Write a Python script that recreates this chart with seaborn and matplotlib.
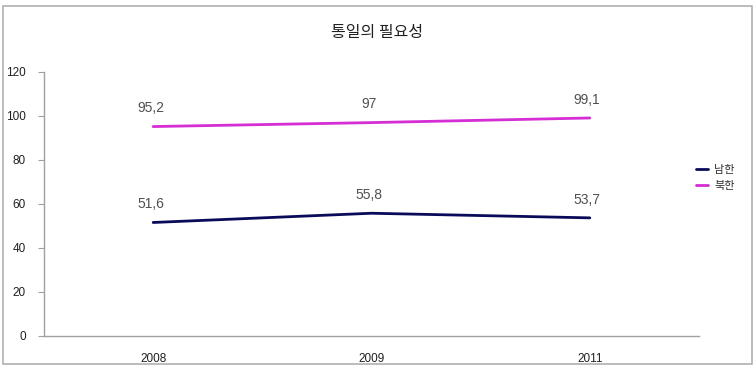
import pandas as pd
import seaborn as sns
import matplotlib.pyplot as plt
from matplotlib.patches import Rectangle

# Data
years = ["2008", "2009", "2011"]
south = [51.6, 55.8, 53.7]
north = [95.2, 97.0, 99.1]
series_names = ["남한", "북한"]
colors = {"남한": "#0a0a5a", "북한": "#d42ed4"}

rows = []
for name, vals in zip(series_names, [south, north]):
    for y, v in zip(years, vals):
        rows.append({"Year": y, "Value": v, "Series": name})
df = pd.DataFrame(rows)

sns.set_style("white")
plt.rcParams["font.family"] = ["Noto Sans CJK KR", "DejaVu Sans"]

fig = plt.figure(figsize=(7.55, 3.67), dpi=100)
ax = fig.add_axes([44 / 755, 31 / 367, 655 / 755, 264 / 367])

sns.lineplot(data=df, x="Year", y="Value", hue="Series", palette=colors,
             linewidth=2, ax=ax, legend=False, sort=False)

# value labels
for name, vals in zip(series_names, [south, north]):
    for i, v in enumerate(vals):
        txt = f"{v:g}".replace(".", ",")
        ax.annotate(txt, (i, v), xytext=(-2, 8), textcoords="offset points",
                    ha="center", va="bottom", fontsize=10, color="#505050",
                    family=["Liberation Sans", "DejaVu Sans"])

ax.set_xlim(-0.5, 2.5)
ax.set_ylim(0, 120)
ax.set_yticks(range(0, 121, 20))
ax.set_xlabel("")
ax.set_ylabel("")
for s in ["top", "right"]:
    ax.spines[s].set_visible(False)
for s in ["left", "bottom"]:
    ax.spines[s].set_color("#a0a0a0")
    ax.spines[s].set_linewidth(1)
ax.tick_params(axis="y", left=True, length=4, color="#a0a0a0", labelsize=8.5, pad=9)
ax.tick_params(axis="x", bottom=False, labelsize=8.5, pad=9)
for lab in ax.get_xticklabels() + ax.get_yticklabels():
    lab.set_family(["Liberation Sans Narrow", "Liberation Sans", "DejaVu Sans"])
    lab.set_color("#202020")

# legend
handles = [plt.Line2D([], [], color=colors[n], linewidth=2) for n in series_names]
fig.legend(handles, series_names, loc="center left", bbox_to_anchor=(0.908, 0.515),
           frameon=False, fontsize=8, handlelength=1.1, handletextpad=0.6,
           labelspacing=0.5, labelcolor="#303030")

fig.text(0.5, 0.912, "통일의 필요성", ha="center", va="center", fontsize=11.5,
         color="#202020")

# outer border
fig.patches.append(Rectangle((3 / 755, 3 / 367), 749 / 755, 358 / 367,
                             transform=fig.transFigure, fill=False,
                             edgecolor="#b0b0b0", linewidth=1.2))

fig.savefig("out.png", dpi=100)
